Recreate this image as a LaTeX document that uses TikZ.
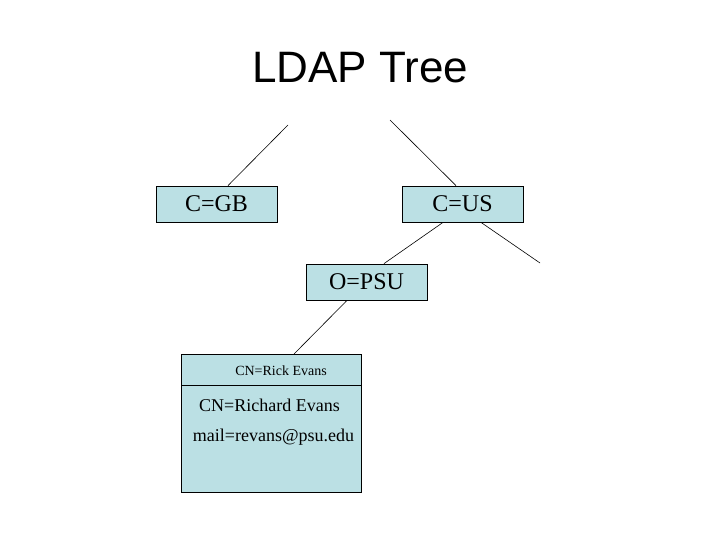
\documentclass[tikz,border=0pt]{standalone}
\usepackage{fontspec}
\setmainfont{Liberation Serif}
\newfontfamily\titlefont{Liberation Sans}
\definecolor{boxfill}{RGB}{187,224,228}
\begin{document}
\begin{tikzpicture}[x=1pt,y=-1pt,
  entry/.style={draw=black,fill=boxfill,line width=0.8pt,inner sep=0pt},
  link/.style={draw=black,line width=0.6pt}]
\useasboundingbox (0,0) rectangle (720,540);
\node[font=\titlefont\fontsize{44}{48}\selectfont] (title) at (360,68) {LDAP Tree};
% boxes
\node[entry,minimum width=121pt,minimum height=36pt,font=\fontsize{24}{26}\selectfont] (gb) at (216.5,204) {C=GB};
\node[entry,minimum width=121pt,minimum height=36pt,font=\fontsize{24}{26}\selectfont] (us) at (462.5,204) {C=US};
\node[entry,minimum width=121pt,minimum height=36pt,font=\fontsize{24}{26}\selectfont] (psu) at (366.5,282) {O=PSU};
\node[entry,minimum width=180pt,minimum height=138pt,anchor=north west] (cn) at (181,354) {};
\draw[line width=0.8pt] (181,385) coordinate (dl) -- (361,385) coordinate (dr);
\node[font=\fontsize{14}{16}\selectfont] (rick) at (281,371) {CN=Rick Evans};
\node[font=\fontsize{18}{20}\selectfont] (richard) at (269.5,405) {CN=Richard Evans};
\node[font=\fontsize{18}{20}\selectfont] (mail) at (273.5,437) {mail=revans@psu.edu};
% connectors
\coordinate (t1) at (288,125);
\coordinate (t2) at (390,120);
\coordinate (t3) at (540,263);
\draw[link] (t1) -- (gb.north -| 228,0);
\draw[link] (t2) -- (us.north -| 456,0);
\draw[link] (us.south -| 443,0) -- (psu.north -| 384,0);
\draw[link] (us.south -| 481,0) -- (t3);
\draw[link] (psu.south -| 347,0) -- (cn.north -| 294,0);
\end{tikzpicture}
\end{document}
